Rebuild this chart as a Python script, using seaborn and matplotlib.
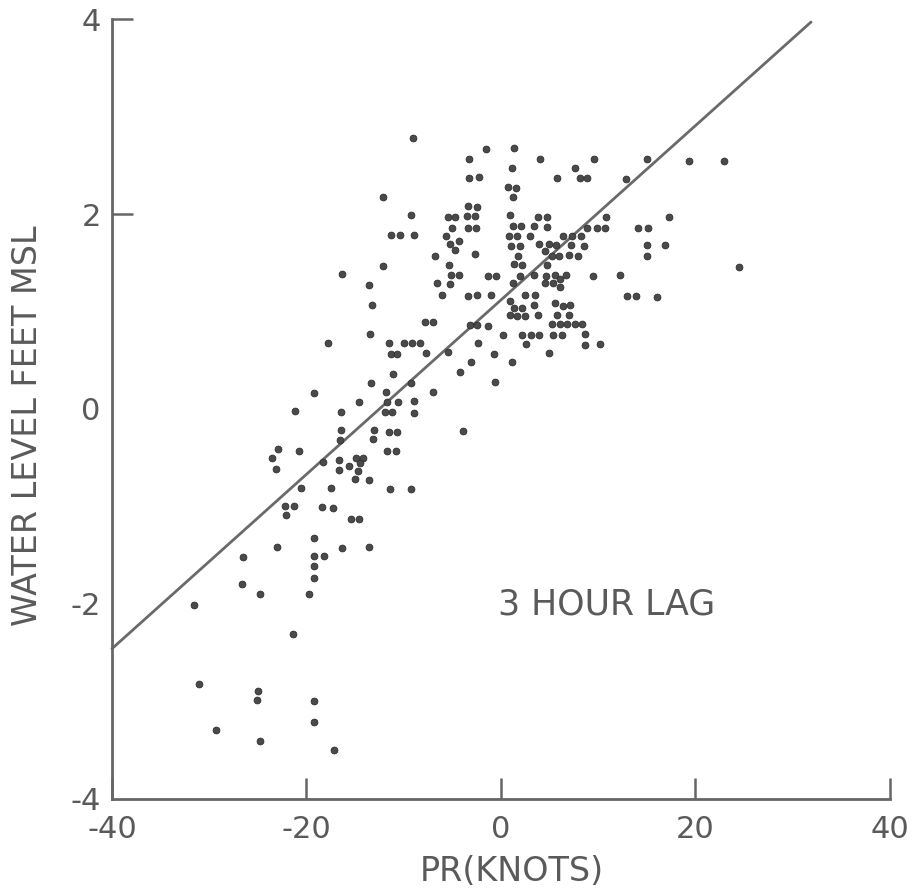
import matplotlib
matplotlib.use("Agg")
import matplotlib.pyplot as plt
import seaborn as sns
import pandas as pd

# ---- data (PR in knots, water level in feet MSL) ----
pr_knots = [
    -9.07, -1.54, 1.40, -3.32, 4.07, 9.62, 1.16, 7.63, -3.32, -2.23,
    5.78, 8.18, 8.86, 12.83, -12.15, 0.75, 1.57, 1.20, -3.42, -2.49,
    -9.27, 0.92, -5.44, -4.69, -3.46, -2.64, 3.87, 4.79, 10.78, -5.06,
    -3.35, -2.60, 1.26, 2.08, 3.39, 4.75, 8.86, 9.89, 10.75, -11.26,
    -10.34, -8.96, -5.68, 0.86, 1.68, 2.95, 6.44, 7.36, 8.25, -5.20,
    -4.34, -4.69, 1.00, 1.95, 3.94, 4.90, 5.72, 7.22, 8.55, 4.55,
    -6.81, -2.64, 1.75, 5.21, 5.99, 7.01, 7.94, 1.40, 2.22, 4.75,
    -12.15, -5.37, -5.13, -4.28, -1.37, -0.48, 1.95, 3.42, 4.69, 5.57,
    6.67, 9.48, 12.29, -6.57, -5.24, 1.26, 4.55, 5.34, 6.06, 6.13,
    -6.02, -3.42, -2.49, -1.03, 0.96, 2.50, 3.49, 5.54, 6.37, 7.12,
    12.97, 1.30, 2.13, 3.42, 0.89, 1.68, 2.53, 3.83, 5.78, 7.05,
    -7.83, -6.95, -3.18, -2.49, -1.30, 5.30, 6.09, 6.85, 7.60, 8.32,
    -11.47, -9.96, -9.14, -8.28, -2.36, 0.17, 2.16, 3.05, 3.94, 5.37,
    6.26, 8.69, 2.57, 8.65, 10.16,
    14.99, 19.33, 22.90, 17.28, 14.10, 15.16, 14.99, 16.84, 14.99, 24.54,
    13.93, 16.05,
    -16.36, -13.54,
    -13.24, -13.41, -17.80, -11.26, -10.65, -11.06, -13.35, -19.27, -11.81, -14.55,
    -11.74, -10.54, -21.15, -16.43, -11.91, -11.16, -16.43, -13.04, -11.53, -10.71,
    -16.53, -13.11, -22.90, -20.77, -23.51, -11.67, -10.78, -23.10, -18.31, -16.67,
    -14.89, -14.14, -14.48, -15.57, -16.67, -14.68, -14.96, -13.59, -20.60, -17.52,
    -11.43,
    -7.70, -5.41, -0.72, 4.96, -3.05, 1.16, -4.21, -0.62, -9.27, -6.95,
    -8.90, -8.90, -3.87, -9.27,
    -22.18, -21.25, -22.11, -18.35, -17.28, -15.40, -14.58, -19.17, -23.07, -16.36,
    -13.52, -26.49, -19.17, -18.20, -19.27, -19.27, -26.62, -24.77, -19.71, -31.59,
    -21.43, -31.08, -24.95, -25.12, -19.20, -19.27, -29.26, -24.81, -17.18,
]
water_level = [
    2.78, 2.67, 2.68, 2.56, 2.56, 2.56, 2.47, 2.47, 2.37, 2.38,
    2.37, 2.37, 2.37, 2.36, 2.17, 2.28, 2.27, 2.17, 2.08, 2.07,
    1.99, 1.99, 1.97, 1.97, 1.98, 1.98, 1.97, 1.97, 1.97, 1.86,
    1.86, 1.86, 1.88, 1.88, 1.88, 1.87, 1.86, 1.86, 1.86, 1.78,
    1.78, 1.78, 1.77, 1.77, 1.77, 1.77, 1.77, 1.77, 1.77, 1.69,
    1.72, 1.63, 1.67, 1.67, 1.69, 1.69, 1.68, 1.68, 1.67, 1.62,
    1.57, 1.59, 1.57, 1.57, 1.57, 1.58, 1.57, 1.49, 1.48, 1.48,
    1.47, 1.48, 1.37, 1.37, 1.36, 1.36, 1.36, 1.37, 1.36, 1.37,
    1.37, 1.36, 1.37, 1.29, 1.28, 1.29, 1.29, 1.29, 1.33, 1.25,
    1.17, 1.16, 1.17, 1.17, 1.11, 1.17, 1.17, 1.09, 1.06, 1.07,
    1.16, 1.04, 1.04, 1.07, 0.96, 0.95, 0.95, 0.96, 0.96, 0.96,
    0.89, 0.89, 0.86, 0.86, 0.85, 0.87, 0.87, 0.87, 0.87, 0.87,
    0.68, 0.68, 0.68, 0.68, 0.68, 0.76, 0.76, 0.76, 0.76, 0.76,
    0.76, 0.77, 0.67, 0.66, 0.67,
    2.56, 2.54, 2.54, 1.97, 1.86, 1.86, 1.68, 1.68, 1.57, 1.46,
    1.16, 1.15,
    1.38, 1.27,
    1.07, 0.77, 0.68, 0.56, 0.56, 0.36, 0.27, 0.16, 0.17, 0.07,
    0.07, 0.07, -0.02, -0.03, -0.03, -0.03, -0.22, -0.22, -0.24, -0.24,
    -0.32, -0.31, -0.41, -0.43, -0.50, -0.43, -0.43, -0.62, -0.54, -0.52,
    -0.50, -0.50, -0.55, -0.59, -0.63, -0.64, -0.72, -0.73, -0.81, -0.81,
    -0.82,
    0.57, 0.58, 0.56, 0.57, 0.48, 0.48, 0.38, 0.28, 0.27, 0.17,
    0.08, -0.04, -0.23, -0.82,
    -1.00, -1.00, -1.09, -1.01, -1.02, -1.13, -1.13, -1.32, -1.42, -1.43,
    -1.42, -1.52, -1.51, -1.51, -1.61, -1.73, -1.80, -1.90, -1.90, -2.01,
    -2.31, -2.82, -2.89, -2.99, -3.00, -3.21, -3.29, -3.41, -3.50,
]

# fitted line end points
fit_x = [-40.0, 31.9]
fit_y = [-2.46, 3.97]

x_ticks = [-40, -20, 0, 20, 40]
x_tick_labels = ["-40", "-20", "0", "20", "40"]
y_ticks = [-4, -2, 0, 2, 4]
y_tick_labels = ["-4", "-2", "0", "2", "4"]
y_marked_ticks = [2, 4]

x_title = "PR(KNOTS)"
y_title = "WATER LEVEL FEET MSL"
note = "3 HOUR LAG"

# ---- plotting ----
sns.set_theme(style="white")
plt.rcParams["font.family"] = ["DejaVu Sans"]

ink = "#5a5a5a"
df = pd.DataFrame({"pr": pr_knots, "wl": water_level})
line_df = pd.DataFrame({"x": fit_x, "y": fit_y})

fig = plt.figure(figsize=(9.14, 8.88), dpi=100)
ax = fig.add_axes([0.1225, 0.1005, 0.851, 0.878])

sns.lineplot(data=line_df, x="x", y="y", ax=ax, color="#6a6a6a",
             linewidth=2.0, clip_on=False, zorder=2)
sns.scatterplot(data=df, x="pr", y="wl", ax=ax, s=24, color="#4a4a4a",
                edgecolor="#2e2e2e", linewidth=0.6, zorder=3, clip_on=False)

ax.set_xlim(-40, 40)
ax.set_ylim(-4, 4)

for side in ["top", "right"]:
    ax.spines[side].set_visible(False)
for side in ["left", "bottom"]:
    ax.spines[side].set_color("#666666")
    ax.spines[side].set_linewidth(2.0)

ax.set_xticks(x_ticks)
ax.set_xticklabels(x_tick_labels)
ax.set_yticks(y_ticks)
ax.set_yticklabels(y_tick_labels)
ax.tick_params(axis="x", which="major", bottom=True, direction="in", length=15,
               width=1.8, color="#666666", pad=12, labelsize=22, labelcolor=ink)
ax.tick_params(axis="y", which="major", left=True, direction="in", length=0,
               pad=8, labelsize=22, labelcolor=ink)
# visible inward ticks on the y axis only at 2 and 4
ax.yaxis.remove_overlapping_locs = False
ax.set_yticks(y_marked_ticks, minor=True)
ax.tick_params(axis="y", which="minor", left=True, direction="in", length=15,
               width=1.8, color="#666666")

ax.set_xlabel(x_title, fontsize=24, color=ink)
ax.set_ylabel(y_title, fontsize=24, color=ink)
ax.xaxis.set_label_coords(0.514, -0.072)
ax.yaxis.set_label_coords(-0.088, 0.479)

ax.text(10.9, -2.01, note, fontsize=25, color=ink, ha="center", va="center")

fig.savefig("out.png", dpi=100, facecolor="white")
